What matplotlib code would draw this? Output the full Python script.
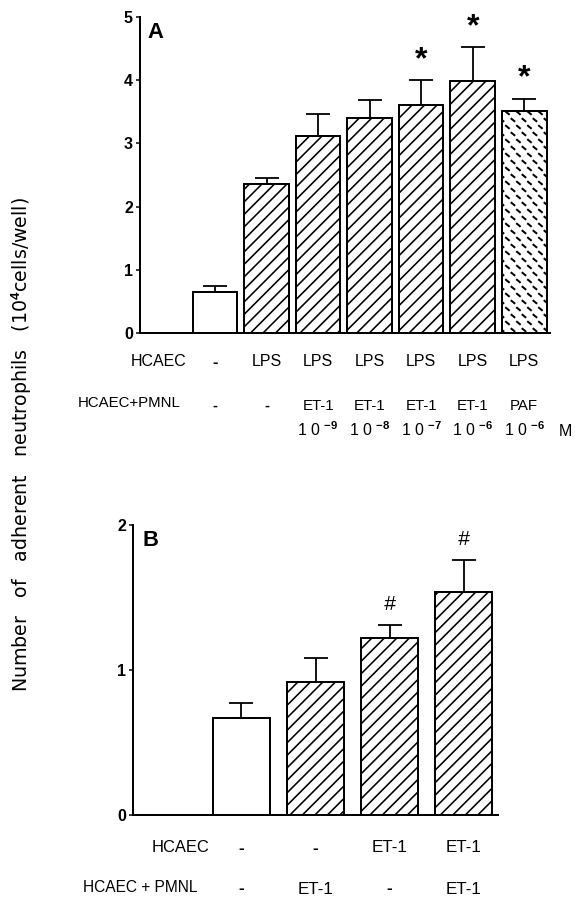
import numpy as np
import matplotlib
matplotlib.use('Agg')
import matplotlib.pyplot as plt
from matplotlib import transforms
from matplotlib.collections import LineCollection

# ---------------- data ----------------
# Panel A
a_values = [0.65, 2.36, 3.12, 3.40, 3.61, 3.98, 3.52]
a_errors = [0.10, 0.09, 0.34, 0.29, 0.39, 0.54, 0.19]
a_hcaec = ['-', 'LPS', 'LPS', 'LPS', 'LPS', 'LPS', 'LPS']
a_pmnl = ['-', '-', 'ET-1', 'ET-1', 'ET-1', 'ET-1', 'PAF']
a_conc = ['', '', '-9', '-8', '-7', '-6', '-6']
a_marks = ['', '', '', '', '*', '*', '*']
a_fill = ['open', 'hatch', 'hatch', 'hatch', 'hatch', 'hatch', 'dash']
a_yticks = [0, 1, 2, 3, 4, 5]

# Panel B
b_values = [0.67, 0.92, 1.22, 1.54]
b_errors = [0.10, 0.16, 0.09, 0.22]
b_hcaec = ['-', '-', 'ET-1', 'ET-1']
b_pmnl = ['-', 'ET-1', '-', 'ET-1']
b_marks = ['', '', '#', '#']
b_fill = ['open', 'hatch', 'hatch', 'hatch']
b_yticks = [0, 1, 2]

# ---------------- style ----------------
plt.rcParams['font.family'] = ['Liberation Sans', 'DejaVu Sans']
plt.rcParams['mathtext.fontset'] = 'custom'
plt.rcParams['mathtext.rm'] = 'Liberation Sans'
plt.rcParams['mathtext.bf'] = 'Liberation Sans:bold'
plt.rcParams['mathtext.it'] = 'Liberation Sans:italic'

W, H, DPI = 575, 899, 72
fig = plt.figure(figsize=(W / DPI, H / DPI), dpi=DPI)
IDT = transforms.IdentityTransform()


def fy(px):
    return 1 - px / H


def setup(ax, yticks):
    for s in ['top', 'right']:
        ax.spines[s].set_visible(False)
    ax.spines['left'].set_linewidth(2)
    ax.spines['bottom'].set_linewidth(2)
    ax.set_xticks([])
    ax.set_yticks(yticks)
    ax.set_yticklabels([str(t) for t in yticks], fontsize=16, fontweight='bold')
    ax.tick_params(axis='y', direction='out', length=4, width=1.5, pad=3)


def fill_bars(ax, bars, kinds):
    """Draw the diagonal / dashed fill patterns inside bars (pixel space)."""
    for bar, kind in zip(bars, kinds):
        if kind == 'open':
            continue
        (x0, y0), (x1, y1) = ax.transData.transform(
            [(bar.get_x(), 0), (bar.get_x() + bar.get_width(), bar.get_height())])
        segs = []
        if kind == 'hatch':
            s = 12.5
            k = np.arange(-(x1 - x0 + y1 - y0) / s - 2, (y1 - y0) / s + 2)
            for c in k * s:
                segs.append([(x0, y0 + c), (x1, y0 + c + (x1 - x0))])
            lw = 1.6
        else:
            ax_, by, bx = 11.0, 7.0, 5.5
            for j in range(int((y1 - y0) / by) + 2):
                off = (j * bx) % ax_
                for i in range(int((x1 - x0) / ax_) + 3):
                    px = x0 - ax_ + off + i * ax_
                    py = y0 + 3 + j * by
                    segs.append([(px - 2.2, py + 1.8), (px + 2.2, py - 1.8)])
            lw = 2.0
        lc = LineCollection(segs, colors='black', linewidths=lw,
                            transform=IDT, zorder=2.5)
        ax.add_collection(lc, autolim=False)
        lc.set_clip_path(bar)


# ---------------- panel A ----------------
axA = fig.add_axes([140 / W, fy(333), 410 / W, 316 / H])
xa = np.arange(len(a_values))
axA.set_xlim(-1.456, 6.5)
axA.set_ylim(0, 5)
barsA = axA.bar(xa, a_values, width=0.865, color='white', edgecolor='black',
                linewidth=1.8, zorder=2)
fill_bars(axA, barsA, a_fill)
for b in barsA:
    axA.add_patch(plt.Rectangle(b.get_xy(), b.get_width(), b.get_height(),
                                fill=False, edgecolor='black', linewidth=1.8, zorder=2.6))
axA.errorbar(xa, a_values, yerr=[np.zeros(len(a_values)), a_errors], fmt='none',
             ecolor='black', elinewidth=1.8, capsize=12, capthick=1.8, zorder=3)
setup(axA, a_yticks)
for xi, v, e, m in zip(xa, a_values, a_errors, a_marks):
    if m:
        axA.annotate(m, (xi, v + e), xytext=(0, 5), textcoords='offset points',
                     ha='center', va='bottom', fontsize=32, fontweight='bold')
axA.text(147 / W, fy(33), 'A', transform=fig.transFigure, fontsize=22,
         fontweight='bold', ha='left', va='center')

trA = transforms.blended_transform_factory(axA.transData, fig.transFigure)
fig.text(131 / W, fy(362), 'HCAEC', fontsize=16, ha='left', va='center')
fig.text(78 / W, fy(403), 'HCAEC+PMNL', fontsize=15, ha='left', va='center')
for xi, t in zip(xa, a_hcaec):
    axA.text(xi, fy(362), t, transform=trA, fontsize=16, ha='center', va='center',
             fontweight='bold' if t == '-' else 'normal')
for xi, t in zip(xa, a_pmnl):
    axA.text(xi, fy(406), t, transform=trA, fontsize=15, ha='center', va='center',
             fontweight='bold' if t == '-' else 'normal')
for xi, c in zip(xa, a_conc):
    if c:
        axA.text(xi, fy(430), r'1 0 $^{\mathbf{' + c + '}}$', transform=trA,
                 fontsize=16, ha='center', va='center')
axA.text(xa[-1] + 0.8, fy(432), 'M', transform=trA, fontsize=16,
         ha='center', va='center')

# ---------------- panel B ----------------
axB = fig.add_axes([133 / W, fy(815), 365 / W, 290 / H])
xb = np.arange(len(b_values))
axB.set_xlim(-1.466, 3.466)
axB.set_ylim(0, 2)
barsB = axB.bar(xb, b_values, width=0.77, color='white', edgecolor='black',
                linewidth=1.8, zorder=2)
fill_bars(axB, barsB, b_fill)
for b in barsB:
    axB.add_patch(plt.Rectangle(b.get_xy(), b.get_width(), b.get_height(),
                                fill=False, edgecolor='black', linewidth=1.8, zorder=2.6))
axB.errorbar(xb, b_values, yerr=[np.zeros(len(b_values)), b_errors], fmt='none',
             ecolor='black', elinewidth=1.8, capsize=12, capthick=1.8, zorder=3)
setup(axB, b_yticks)
for xi, v, e, m in zip(xb, b_values, b_errors, b_marks):
    if m:
        axB.annotate(m, (xi, v + e), xytext=(0, 11), textcoords='offset points',
                     ha='center', va='bottom', fontsize=21, style='italic')
axB.text(143 / W, fy(541), 'B', transform=fig.transFigure, fontsize=22,
         fontweight='bold', ha='left', va='center')

trB = transforms.blended_transform_factory(axB.transData, fig.transFigure)
fig.text(152 / W, fy(848), 'HCAEC', fontsize=16.5, ha='left', va='center')
fig.text(83 / W, fy(887), 'HCAEC + PMNL', fontsize=15.5, ha='left', va='center')
for xi, t in zip(xb, b_hcaec):
    axB.text(xi, fy(848), t, transform=trB, fontsize=17, ha='center', va='center',
             fontweight='bold' if t == '-' else 'normal')
for xi, t in zip(xb, b_pmnl):
    axB.text(xi, fy(889), t, transform=trB, fontsize=17, ha='center', va='center',
             fontweight='bold' if t == '-' else 'normal')

# ---------------- y label ----------------
fig.text(22 / W, fy(445),
         'Number   of   adherent   neutrophils   (10$^{\\mathbf{4}}$cells/well)',
         rotation=90, fontsize=19, ha='center', va='center',
         family=['DejaVu Sans'])

fig.savefig('out.png', dpi=DPI)
